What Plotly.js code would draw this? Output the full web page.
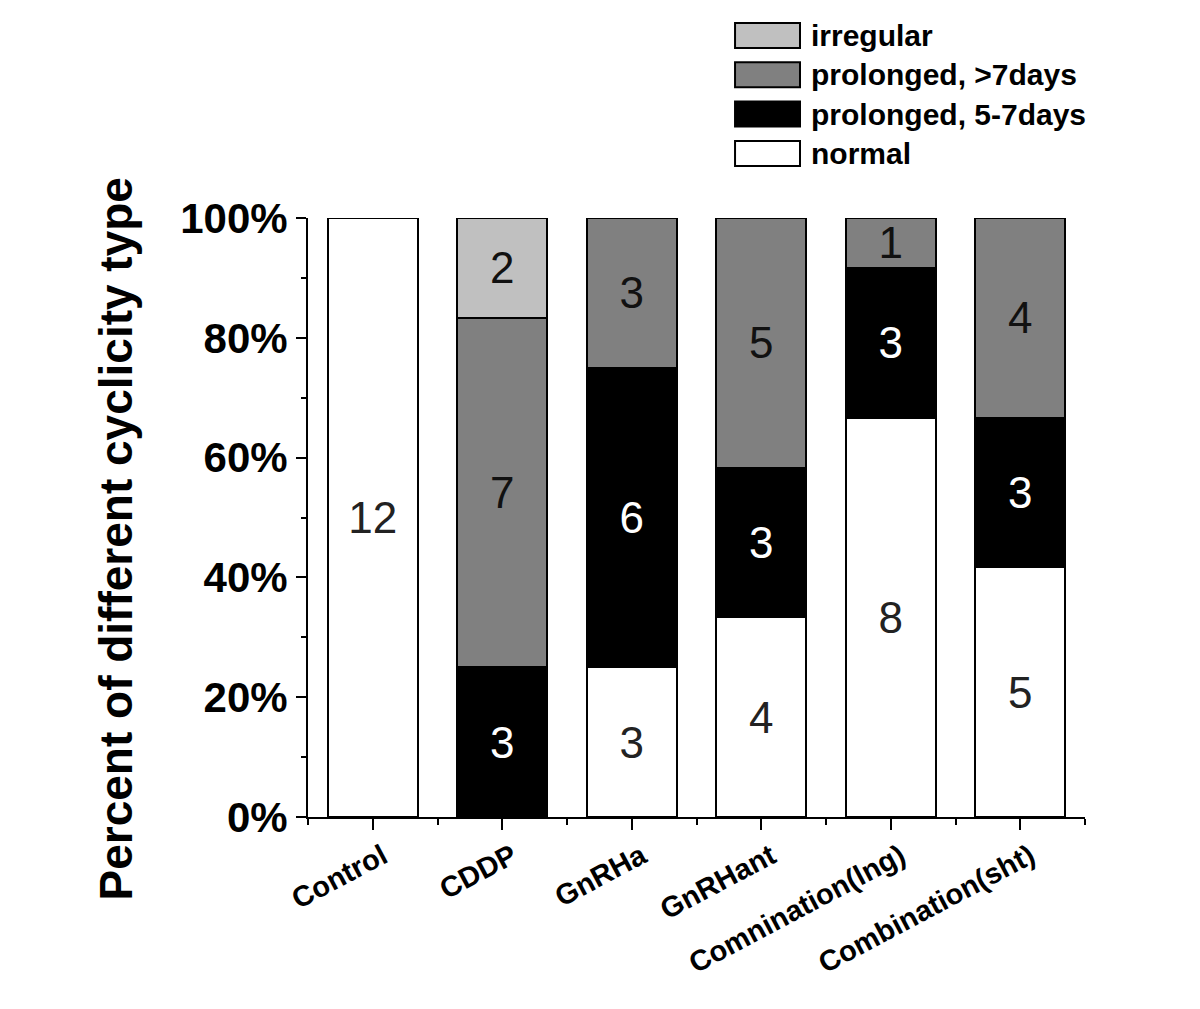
<!DOCTYPE html>
<html>
<head>
<meta charset="utf-8">
<script src="https://cdn.plot.ly/plotly-3.0.1.min.js"></script>
<style>
  html, body { margin: 0; padding: 0; background: #fff; }
  #plot { width: 1200px; height: 1009px; }
</style>
</head>
<body>
<div id="plot"></div>
<script>
// groups and counts per cyclicity type (n animals)
var groups = ["Control", "CDDP", "GnRHa", "GnRHant", "Comnination(lng)", "Combination(sht)"];
var normal    = [12, 0, 3, 4, 8, 5];
var prol57    = [0, 3, 6, 3, 3, 3];
var prol7     = [0, 7, 3, 5, 1, 4];
var irregular = [0, 2, 0, 0, 0, 0];

var yTicks = [0, 20, 40, 60, 80, 100];
var yTickText = ["0%", "20%", "40%", "60%", "80%", "100%"];

var seriesNames  = ["normal", "prolonged, 5-7days", "prolonged, >7days", "irregular"];
var seriesColors = ["#ffffff", "#000000", "#808080", "#c0c0c0"];
var textColors   = ["#222222", "#ffffff", "#111111", "#111111"];
var seriesValues = [normal, prol57, prol7, irregular];

var xpos = groups.map(function (g, i) { return i; });

var plotData = seriesValues.map(function (vals, k) {
    return {
        x: xpos,
        y: vals,
        type: "bar",
        name: seriesNames[k],
        marker: { color: seriesColors[k], line: { color: "#000", width: 2 } },
        text: vals.map(function (v) { return v ? String(v) : ""; }),
        textposition: "inside",
        insidetextanchor: "middle",
        textangle: 0,
        constraintext: "none",
        textfont: { family: "Liberation Sans, Arial, sans-serif", size: 44, color: textColors[k] },
        hoverinfo: "name+text",
        showlegend: false
    };
});

// legend drawn as boxes + labels (top entry first)
var legendOrder = [3, 2, 1, 0];
var shapes = [];
var annotations = [];
legendOrder.forEach(function (k, row) {
    var top = 1.3255 - row * 0.0656;
    shapes.push({
        type: "rect", xref: "paper", yref: "paper",
        x0: 0.5496, x1: 0.6332, y0: top - 0.0417, y1: top,
        fillcolor: seriesColors[k], line: { color: "#000", width: 2 }
    });
    annotations.push({
        xref: "paper", yref: "paper", x: 0.6445, y: top - 0.0208,
        xanchor: "left", yanchor: "middle", showarrow: false,
        text: "<b>" + seriesNames[k] + "</b>",
        font: { family: "Liberation Sans, Arial, sans-serif", size: 30, color: "#000" }
    });
});

annotations.push({
    xref: "paper", yref: "paper", x: 0, y: 0.5, xshift: -193, yshift: -22,
    xanchor: "center", yanchor: "middle", showarrow: false, textangle: -90,
    text: "<b>Percent of different cyclicity type</b>",
    font: { family: "Liberation Sans Narrow, Arial Narrow, Liberation Sans, sans-serif", size: 46, color: "#000" }
});

var layout = {
    width: 1200,
    height: 1009,
    margin: { l: 308, r: 115, t: 218, b: 192 },
    paper_bgcolor: "#fff",
    plot_bgcolor: "#fff",
    barmode: "stack",
    barnorm: "percent",
    bargap: 0.305,
    showlegend: false,
    xaxis: {
        range: [-0.5, 5.5],
        tickmode: "array",
        tickvals: xpos,
        ticktext: groups,
        tickangle: -28,
        ticks: "outside",
        ticklen: 11,
        tickwidth: 2,
        tickcolor: "#000",
        ticklabelshift: 10,
        ticklabelstandoff: -2,
        minor: { tickmode: "linear", tick0: 0.5, dtick: 1, ticks: "outside", ticklen: 6, tickwidth: 2, tickcolor: "#000" },
        showline: true,
        linecolor: "#000",
        linewidth: 2,
        showgrid: false,
        zeroline: false,
        tickfont: { family: "Liberation Sans, Arial, sans-serif", size: 29, color: "#000", weight: "bold" }
    },
    yaxis: {
        range: [0, 100],
        tickmode: "array",
        tickvals: yTicks,
        ticktext: yTickText,
        ticks: "outside",
        ticklen: 10,
        tickwidth: 2,
        tickcolor: "#000",
        minor: { tickmode: "linear", tick0: 10, dtick: 20, ticks: "outside", ticklen: 5, tickwidth: 2, tickcolor: "#000" },
        showline: true,
        linecolor: "#000",
        linewidth: 2,
        showgrid: false,
        zeroline: false,
        tickfont: { family: "Liberation Sans, Arial, sans-serif", size: 42, color: "#000", weight: "bold" }
    },
    shapes: shapes,
    annotations: annotations
};

Plotly.newPlot("plot", plotData, layout, { displayModeBar: false, staticPlot: true });
</script>
</body>
</html>
